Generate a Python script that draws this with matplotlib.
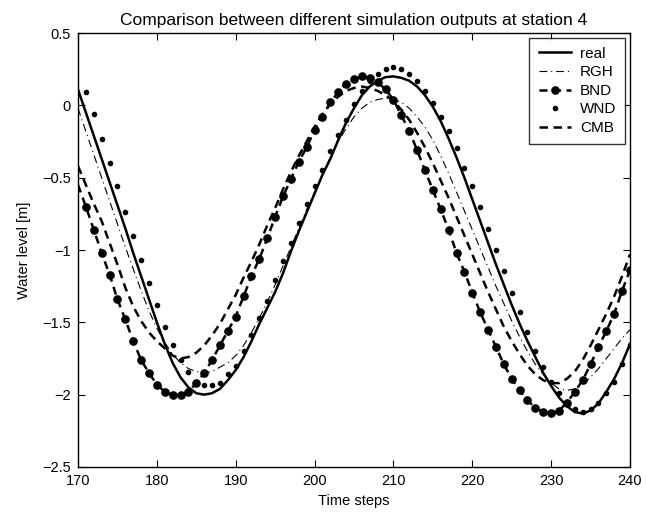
import matplotlib
matplotlib.use("Agg")
import matplotlib.pyplot as plt
import numpy as np

plt.rcParams['font.family'] = ['Liberation Sans', 'DejaVu Sans']

t = list(range(170, 241))
nan = float('nan')

real = [0.11, -0.05, -0.21, -0.37, -0.53, -0.69, -0.85, -1.02, -1.18, -1.34,
        -1.50, -1.65, -1.78, -1.88, -1.95, -1.99, -2.00, -1.99, -1.96, -1.90,
        -1.83, -1.74, -1.63, -1.51, -1.40, -1.29, -1.16, -1.01, -0.87, -0.74,
        -0.61, -0.48, -0.37, -0.24, -0.12, -0.02, 0.07, 0.13, 0.17, 0.195,
        0.20, 0.19, 0.17, 0.13, 0.07, -0.01, -0.11, -0.23, -0.36, -0.50,
        -0.65, -0.80, -0.95, -1.10, -1.24, -1.38, -1.51, -1.63, -1.74, -1.85,
        -1.94, -2.02, -2.08, -2.12, -2.13, -2.11, -2.06, -1.98, -1.89, -1.78,
        -1.65]

rgh = [-0.02, -0.18, -0.34, -0.50, -0.66, -0.82, -0.98, -1.13, -1.28, -1.42,
       -1.54, -1.64, -1.72, -1.78, -1.82, -1.84, -1.85, -1.84, -1.81, -1.78,
       -1.73, -1.66, -1.57, -1.47, -1.36, -1.24, -1.11, -0.98, -0.85, -0.72,
       -0.60, -0.48, -0.36, -0.25, -0.16, -0.08, -0.02, 0.02, 0.04, 0.05,
       0.04, 0.02, -0.02, -0.08, -0.15, -0.24, -0.35, -0.47, -0.60, -0.73,
       -0.86, -0.99, -1.12, -1.25, -1.37, -1.49, -1.60, -1.70, -1.79, -1.86,
       -1.92, -1.96, -1.97, -1.96, -1.93, -1.88, -1.82, -1.75, -1.68, -1.61,
       -1.55]

bnd = [-0.55, -0.70, -0.86, -1.02, -1.17, -1.34, -1.48, -1.63, -1.76, -1.85,
       -1.93, -1.98, -2.00, -2.00, -1.98, -1.92, -1.85, -1.76, -1.66, -1.56,
       -1.46, -1.32, -1.18, -1.06, -0.92, -0.77, -0.63, -0.51, -0.39, -0.29,
       -0.17, -0.08, 0.02, 0.09, 0.15, 0.18, 0.20, 0.19, 0.16, 0.11,
       0.04, -0.07, -0.175, -0.31, -0.45, -0.585, -0.72, -0.86, -1.02, -1.15,
       -1.295, -1.43, -1.55, -1.67, -1.79, -1.89, -1.97, -2.04, -2.09, -2.12,
       -2.13, -2.11, -2.055, -1.98, -1.90, -1.79, -1.67, -1.56, -1.44, -1.28,
       -1.14]

wnd = [nan, 0.09, -0.06, -0.235, -0.40, -0.56, -0.74, -0.90, -1.07, -1.23,
       -1.38, -1.53, -1.66, -1.76, -1.84, -1.91, -1.93, -1.93, -1.92, -1.86,
       -1.80, -1.70, -1.59, -1.47, -1.35, -1.21, -1.075, -0.95, -0.815, -0.68,
       -0.56, -0.447, -0.317, -0.205, -0.10, 0.007, 0.10, 0.17, 0.22, 0.25,
       0.262, 0.25, 0.217, 0.17, 0.10, 0.014, -0.08, -0.175, -0.297, -0.433,
       -0.557, -0.70, -0.857, -1.0, -1.145, -1.295, -1.426, -1.57, -1.70, -1.81,
       -1.91, -1.99, -2.05, -2.10, -2.12, -2.10, -2.06, -1.99, -1.91, -1.79,
       -1.66]

cmb = [-0.42, -0.55, -0.68, -0.80, -0.95, -1.10, -1.26, -1.39, -1.49, -1.57,
       -1.63, -1.68, -1.73, -1.75, -1.74, -1.71, -1.66, -1.59, -1.51, -1.41,
       -1.31, -1.19, -1.08, -0.96, -0.83, -0.71, -0.58, -0.46, -0.35, -0.25,
       -0.15, -0.06, 0.01, 0.06, 0.10, 0.12, 0.13, 0.12, 0.10, 0.07,
       0.03, -0.03, -0.10, -0.19, -0.29, -0.40, -0.52, -0.64, -0.77, -0.90,
       -1.03, -1.16, -1.29, -1.41, -1.53, -1.63, -1.72, -1.80, -1.86, -1.90,
       -1.92, -1.92, -1.89, -1.84, -1.76, -1.66, -1.55, -1.44, -1.32, -1.18,
       -1.03]

xticks = [170, 180, 190, 200, 210, 220, 230, 240]
yticks = [-2.5, -2, -1.5, -1, -0.5, 0, 0.5]
ytick_labels = ['\u22122.5', '\u22122', '\u22121.5', '\u22121', '\u22120.5', '0', '0.5']

fig = plt.figure(figsize=(6.46, 5.22), dpi=100)
ax = fig.add_axes([78/646, 1-467/522, (630-78)/646, (467-33)/522])

ax.plot(t, real, color='black', lw=1.8, linestyle='-', label='real')
ax.plot(t, rgh, color='black', lw=0.8, linestyle=(0, (7, 3.5, 1, 3.5)), label='RGH')
ax.plot(t, bnd, color='black', lw=1.8, linestyle=(0, (3.2, 2.2)), marker='o',
        markersize=5.2, markevery=list(range(1, len(t))), label='BND')
ax.plot(t, wnd, color='black', linestyle='none', marker='o', markersize=3.0,
        label='WND')
ax.plot(t, cmb, color='black', lw=1.8, linestyle=(0, (3.4, 2.2)), label='CMB')

ax.set_xlim(170, 240)
ax.set_ylim(-2.5, 0.5)
ax.set_xticks(xticks)
ax.set_yticks(yticks)
ax.set_yticklabels(ytick_labels)
ax.tick_params(direction='in', top=True, right=True, length=5, width=0.8,
               labelsize=10.5, pad=5)
for s in ax.spines.values():
    s.set_linewidth(1.0)

ax.set_title('Comparison between different simulation outputs at station 4',
             fontsize=12.5, pad=6)
ax.set_xlabel('Time steps', fontsize=10.5)
ax.set_ylabel('Water level [m]', fontsize=10.5, labelpad=8)

leg = ax.legend(loc='upper right', fontsize=11, frameon=True, fancybox=False,
                edgecolor='black', handlelength=2.1, borderpad=0.6,
                labelspacing=0.3, handletextpad=0.6, borderaxespad=0.3)
leg.get_frame().set_linewidth(1.0)

fig.savefig('out.png', dpi=100)
